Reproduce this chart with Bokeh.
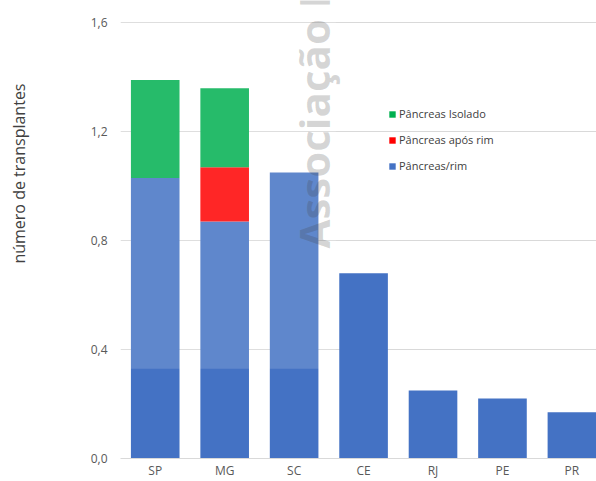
import math
from bokeh.plotting import figure
from bokeh.models import (ColumnDataSource, Range1d, FixedTicker, CustomJSTickFormatter,
                          Legend, LegendItem, BoxAnnotation, Label, Title)
from bokeh.embed import file_html
from bokeh.resources import INLINE

# ---- data ----
categories = ["SP", "MG", "SC", "CE", "RJ", "PE", "PR"]
pancreas_rim = [1.03, 0.87, 1.05, 0.68, 0.25, 0.22, 0.17]
pancreas_apos_rim = [0.0, 0.20, 0.0, 0.0, 0.0, 0.0, 0.0]
pancreas_isolado = [0.36, 0.29, 0.0, 0.0, 0.0, 0.0, 0.0]
series_names = ["Pâncreas/rim", "Pâncreas após rim", "Pâncreas Isolado"]
y_ticks = [0.0, 0.4, 0.8, 1.2, 1.6]
y_title = "número de transplantes"

colors = ["#4472C4", "#FF0000", "#00B050"]
FONT = "Open Sans"

x_pos = list(range(len(categories)))
source = ColumnDataSource(data=dict(
    x=x_pos,
    rim=pancreas_rim,
    apos=pancreas_apos_rim,
    iso=pancreas_isolado,
))

p = figure(width=596, height=481, output_backend="svg", toolbar_location=None,
           x_range=Range1d(-0.5, 6.354), y_range=Range1d(0, 1.682),
           min_border_left=120, min_border_right=0, min_border_top=0, min_border_bottom=23)
p.outline_line_color = None
p.background_fill_color = "white"
p.border_fill_color = "white"

renderers = p.vbar_stack(["rim", "apos", "iso"], x="x", width=0.7,
                         fill_color=colors, line_color=None, source=source)

# axes
p.xaxis.ticker = FixedTicker(ticks=x_pos)
p.xaxis.major_label_overrides = {i: c for i, c in zip(x_pos, categories)}
p.xaxis.axis_line_color = "#D9D9D9"
p.xaxis.major_tick_line_color = None
p.xaxis.major_tick_out = 0
p.xaxis.major_tick_in = 0
p.xaxis.minor_tick_line_color = None
p.xaxis.major_label_text_font = FONT
p.xaxis.major_label_text_font_size = "12px"
p.xaxis.major_label_text_color = "#595959"
p.xaxis.major_label_standoff = 3

p.yaxis.ticker = FixedTicker(ticks=y_ticks)
p.yaxis.formatter = CustomJSTickFormatter(code="return tick.toFixed(1).replace('.', ',');")
p.yaxis.axis_line_color = None
p.yaxis.major_tick_line_color = None
p.yaxis.major_tick_out = 0
p.yaxis.major_tick_in = 0
p.yaxis.minor_tick_line_color = None
p.yaxis.major_label_text_font = FONT
p.yaxis.major_label_text_font_size = "12px"
p.yaxis.major_label_text_color = "#595959"
p.yaxis.major_label_standoff = 13
# blank axis label used only as spacing, so the title sits at the far left
p.yaxis.axis_label = " "
p.yaxis.axis_label_text_font_size = "16px"
p.yaxis.axis_label_standoff = 33

p.xgrid.grid_line_color = None
p.ygrid.ticker = FixedTicker(ticks=y_ticks)
p.ygrid.grid_line_color = "#D9D9D9"

# watermark lightening
p.add_layout(BoxAnnotation(left=-0.6, right=2.6, bottom=0.33, top=1.8,
                           fill_color="white", fill_alpha=0.15, line_color=None))
p.add_layout(Label(x=2.28, y=0.771, text="Associação B", angle=math.pi / 2,
                   text_font=FONT, text_font_style="bold", text_font_size="42px",
                   text_color="#404040", text_alpha=0.22,
                   text_align="left", text_baseline="alphabetic"))

# y title on the left, shifted upward like the reference
p.add_layout(Title(text=y_title, align="right", offset=83, standoff=10,
                   text_font=FONT, text_font_size="16px", text_font_style="normal",
                   text_color="#404040"), "left")

legend = Legend(items=[LegendItem(label=series_names[i], renderers=[renderers[i]])
                       for i in [2, 1, 0]],
                location=(268, 285), padding=0, margin=0,
                glyph_width=8, glyph_height=8, label_height=12, spacing=11,
                label_standoff=3, label_text_font=FONT, label_text_font_size="11px",
                label_text_color="#404040", border_line_color=None,
                background_fill_alpha=0)
p.add_layout(legend)

open("out.html", "w").write(file_html(p, INLINE))
